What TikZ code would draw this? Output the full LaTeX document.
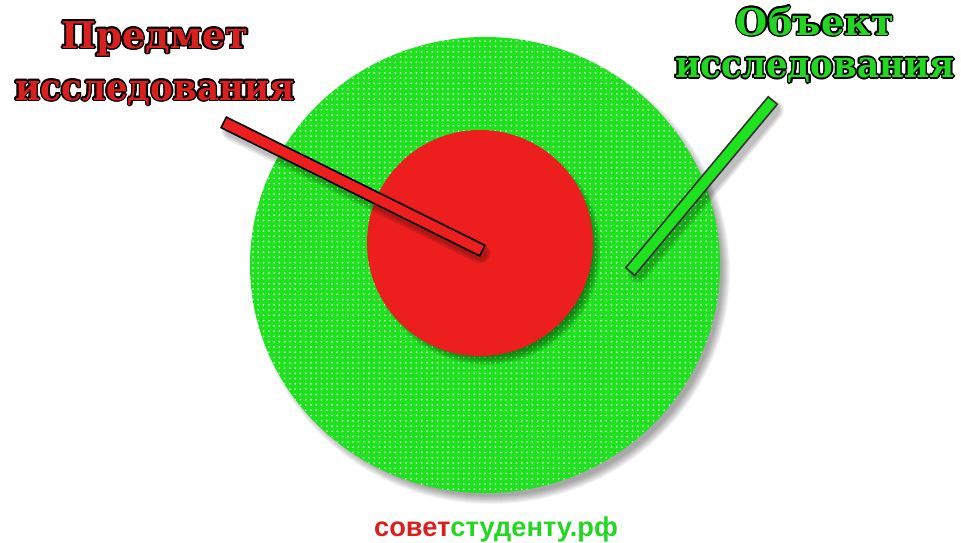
\documentclass[tikz,border=0pt]{standalone}
\usepackage{fontspec}
\setmainfont{DejaVu Serif}
\newfontfamily\sitefont{Liberation Sans}
\usepackage{contour}
\usetikzlibrary{patterns}
\definecolor{fieldgreen}{HTML}{1DE21D}
\definecolor{coregred}{HTML}{EC1F1E}
\definecolor{labelred}{HTML}{D8201F}
\definecolor{labelgreen}{HTML}{22D622}
\definecolor{coreshade}{HTML}{0A4A0A}
\contourlength{0.9pt}
\contournumber{12}
\newcommand{\olt}[1]{\contour{black}{#1}}
\newcommand{\oltn}[1]{\scalebox{0.925}[1]{\contour{black}{#1}}}
\tikzset{
  haze/.style={fill=black, opacity=0.045},
  lbl/.style={inner sep=0pt, align=center, font=\fontsize{21}{29.5}\selectfont\bfseries},
  subjbar/.style={draw=black, line width=1pt, double=coregred, double distance=5.6pt, line cap=rect},
  objbar/.style={draw=black!80, line width=1pt, double=fieldgreen, double distance=5.6pt, line cap=rect},
  barhaze/.style={draw=black, opacity=0.09, line cap=round},
}

\begin{document}
\begin{tikzpicture}[x=0.02cm,y=-0.02cm]
  \useasboundingbox[fill=white] (0,0) rectangle (961,542);
  % soft shadow of the outer field
  \foreach \k in {0,...,8}
    \fill[haze] (491,272) ellipse ({231+\k} and {224+\k});
  \fill[fieldgreen] (485,265) ellipse (235 and 228);
  \fill[pattern=dots, pattern color=white] (485,265) ellipse (235 and 228);
  % inner core
  \foreach \k in {0,...,9}
    \fill[coreshade, opacity=0.09] (486,250) ellipse ({106+\k} and {106+\k});
  \fill[coregred] (480,243) ellipse (113 and 113);
  % pointer ends
  \coordinate (subjend) at (229,125);
  \coordinate (subjtip) at (477,248);
  \coordinate (objend) at (769,105);
  \coordinate (objtip) at (634,267);
  % bar shadows
  \foreach \w in {8,10,12}{
    \draw[barhaze, line width=\w pt] ([shift={(3,5)}]subjend) -- ([shift={(3,5)}]subjtip);
    \draw[barhaze, line width=\w pt] ([shift={(4,5)}]objend) -- ([shift={(4,5)}]objtip);
  }
  \draw[subjbar] (subjend) -- (subjtip);
  \draw[objbar] (objend) -- (objtip);
  % labels
  \node[lbl, text=labelred, anchor=north] (subject) at (155,21)
    {\olt{Предмет}\\\oltn{исследования}};
  \node[lbl, text=labelgreen, anchor=north, font=\fontsize{21}{24.2}\selectfont\bfseries] (object) at (815,6)
    {\olt{Объект}\\\oltn{исследования}};
  \node[inner sep=0pt, anchor=base, font=\sitefont\bfseries\fontsize{15.5}{18}\selectfont] (site) at (496,536)
    {\textcolor{labelred}{совет}\textcolor{labelgreen}{студенту.рф}};
\end{tikzpicture}
\end{document}
